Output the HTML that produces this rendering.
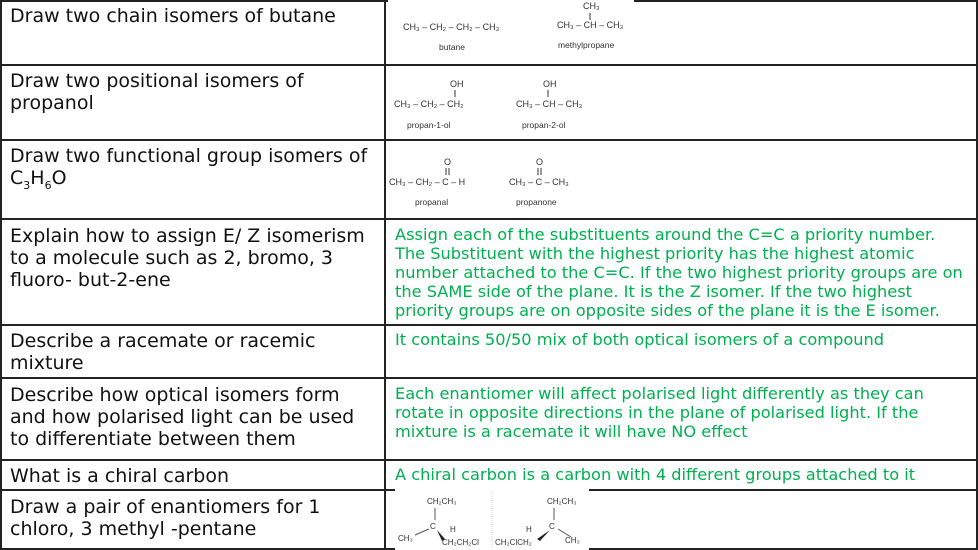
<!DOCTYPE html>
<html><head><meta charset="utf-8"><style>
body{margin:0;width:978px;height:550px;background:#fff;position:relative;overflow:hidden;font-family:"DejaVu Sans","Liberation Sans",sans-serif}
.h{position:absolute;left:0;width:978px;height:2px;background:#222}
.v{position:absolute;top:0;width:2px;height:550px;background:#222}
.l{position:absolute;left:10px;width:368px;font-size:19px;line-height:22px;color:#111}
.g{position:absolute;left:395px;width:578px;font-size:16.2px;line-height:19px;color:#00b050}
svg{position:absolute}
svg text{font-family:"Liberation Sans",sans-serif;fill:#333}
</style></head><body>
<div class="h" style="top:0"></div>
<div class="h" style="top:64px"></div>
<div class="h" style="top:139px"></div>
<div class="h" style="top:218px"></div>
<div class="h" style="top:324px"></div>
<div class="h" style="top:377px"></div>
<div class="h" style="top:459px"></div>
<div class="h" style="top:489px"></div>
<div class="h" style="top:548px"></div>
<div class="v" style="left:0"></div>
<div class="v" style="left:384px"></div>
<div class="v" style="left:976px"></div>

<div class="l" style="top:5px">Draw two chain isomers of butane</div>
<div class="l" style="top:70px">Draw two positional isomers of<br>propanol</div>
<div class="l" style="top:145px">Draw two functional group isomers of<br>C<sub style="font-size:11px">3</sub>H<sub style="font-size:11px">6</sub>O</div>
<div class="l" style="top:225px">Explain how to assign E/ Z isomerism<br>to a molecule such as 2, bromo, 3<br>fluoro- but-2-ene</div>
<div class="l" style="top:330px">Describe a racemate or racemic<br>mixture</div>
<div class="l" style="top:384px">Describe how optical isomers form<br>and how polarised light can be used<br>to differentiate between them</div>
<div class="l" style="top:465px">What is a chiral carbon</div>
<div class="l" style="top:496px">Draw a pair of enantiomers for 1<br>chloro, 3 methyl -pentane</div>

<div class="g" style="top:225px">Assign each of the substituents around the C=C a priority number.<br>The Substituent with the highest priority has the highest atomic<br>number attached to the C=C. If the two highest priority groups are on<br>the SAME side of the plane. It is the Z isomer. If the two highest<br>priority groups are on opposite sides of the plane it is the E isomer.</div>
<div class="g" style="top:330px">It contains 50/50 mix of both optical isomers of a compound</div>
<div class="g" style="top:384px">Each enantiomer will affect polarised light differently as they can<br>rotate in opposite directions in the plane of polarised light. If the<br>mixture is a racemate it will have NO effect</div>
<div class="g" style="top:465px">A chiral carbon is a carbon with 4 different groups attached to it</div>

<svg style="left:386px;top:0" width="250" height="64">
<rect x="2" y="0" width="246" height="64" fill="#fff"/>
<text x="17" y="30" font-size="9">CH₃ – CH₂ – CH₂ – CH₃</text>
<text x="53" y="50" font-size="8.5">butane</text>
<text x="197" y="9" font-size="9">CH₃</text>
<line x1="204" y1="13" x2="204" y2="20" stroke="#333"/>
<text x="171" y="28" font-size="9">CH₃ – CH – CH₃</text>
<text x="172" y="48" font-size="8.5">methylpropane</text>
</svg>
<svg style="left:386px;top:70px" width="250" height="68">
<text x="64" y="17" font-size="9">OH</text>
<line x1="69" y1="20" x2="69" y2="27" stroke="#333"/>
<text x="8" y="37" font-size="9">CH₃ – CH₂ – CH₂</text>
<text x="21" y="58" font-size="8.5">propan-1-ol</text>
<text x="157" y="17" font-size="9">OH</text>
<line x1="162" y1="20" x2="162" y2="27" stroke="#333"/>
<text x="130" y="37" font-size="9">CH₃ – CH – CH₃</text>
<text x="136" y="58" font-size="8.5">propan-2-ol</text>
</svg>
<svg style="left:386px;top:148px" width="250" height="68">
<text x="58" y="17" font-size="9">O</text>
<line x1="60" y1="20" x2="60" y2="27" stroke="#333"/><line x1="63" y1="20" x2="63" y2="27" stroke="#333"/>
<text x="3" y="37" font-size="9">CH₃ – CH₂ – C – H</text>
<text x="29" y="57" font-size="8.5">propanal</text>
<text x="150" y="17" font-size="9">O</text>
<line x1="152" y1="20" x2="152" y2="27" stroke="#333"/><line x1="155" y1="20" x2="155" y2="27" stroke="#333"/>
<text x="123" y="37" font-size="9">CH₃ – C – CH₃</text>
<text x="130" y="57" font-size="8.5">propanone</text>
</svg>
<svg style="left:395px;top:487px" width="194" height="63">
<rect width="194" height="63" fill="#fff"/>
<text x="32" y="17" font-size="8">CH₂CH₃</text>
<line x1="40" y1="21" x2="40" y2="33" stroke="#555"/>
<text x="35" y="42" font-size="8">C</text>
<text x="55" y="45" font-size="8">H</text>
<line x1="34" y1="42" x2="20" y2="48" stroke="#555"/>
<text x="3" y="54" font-size="8">CH₃</text>
<polygon points="42,43 50,52 47,54" fill="#222"/>
<text x="47" y="58" font-size="8">CH₂CH₂Cl</text>
<line x1="97" y1="5" x2="97" y2="60" stroke="#ccc" stroke-dasharray="1,1"/>
<text x="152" y="17" font-size="8">CH₂CH₃</text>
<line x1="159" y1="21" x2="159" y2="33" stroke="#555"/>
<text x="154" y="42" font-size="8">C</text>
<text x="131" y="45" font-size="8">H</text>
<line x1="163" y1="42" x2="176" y2="50" stroke="#555"/>
<text x="170" y="56" font-size="8">CH₃</text>
<polygon points="155,43 145,54 142,52" fill="#222"/>
<text x="100" y="58" font-size="8">CH₂ClCH₂</text>
</svg>
</body></html>
